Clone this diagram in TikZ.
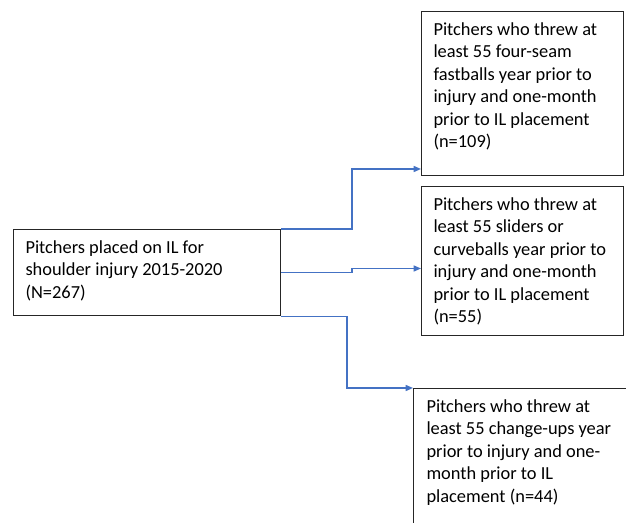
\documentclass[tikz,border=0pt]{standalone}
\usepackage{fontspec}
\setmainfont{Carlito}
\usetikzlibrary{arrows.meta,calc}

\definecolor{flowblue}{HTML}{4472C4}
\definecolor{boxline}{HTML}{262626}

% Text of a box: fixed height, lines set from the top.
\newcommand{\boxlines}[3]{\parbox[t][#1][t]{#2}{\raggedright\rule{0pt}{12pt}#3}}

\begin{document}
\begin{tikzpicture}[x=0.75pt,y=-0.75pt,>={Triangle[length=5.5pt,width=4.5pt]},
    line cap=butt,line join=miter,
    stage/.style={draw=boxline,line width=.75pt,anchor=north west,
      inner xsep=9pt,inner ysep=6pt,font=\fontsize{13.8}{16.8}\selectfont},
    flow/.style={->,draw=flowblue,line width=1.1pt}]
    \useasboundingbox (0,0) rectangle (626,523);
    \clip (0,0) rectangle (626,523);

    % The cohort all three groups are drawn from.
    \node[stage] (src) at (13,229) {\boxlines{52.75pt}{182.25pt}{Pitchers placed on IL for\\
      shoulder injury 2015-2020\\ (N=267)}};

    % The three pitch-type groups.
    \node[stage] (fb) at (421,11) {\boxlines{111pt}{133.5pt}{Pitchers who threw at\\
      least 55 four-seam\\ fastballs year prior to\\ injury and one-month\\
      prior to IL placement\\ (n=109)}};
    \node[stage] (sl) at (421,186) {\boxlines{99.75pt}{133.5pt}{Pitchers who threw at\\
      least 55 sliders or\\ curveballs year prior to\\ injury and one-month\\
      prior to IL placement\\ (n=55)}};
    \node[stage,inner xsep=9.75pt] (ch) at (413,388) {\boxlines{150pt}{147pt}{Pitchers who threw at\\
      least 55 change-ups year\\ prior to injury and one-\\ month prior to IL\\
      placement (n=44)}};

    % The elbow connectors out of the cohort box.
    \draw[flow] (src.north east) -- ++(71,0) |- ($(fb.south west)+(0,-7)$);
    \draw[flow] (src.east) -- ++(71,0) |- ($(sl.west)+(0,7.5)$);
    \draw[flow] (src.south east) -- ++(66,0) |- (ch.north west);
  \end{tikzpicture}
\end{document}
